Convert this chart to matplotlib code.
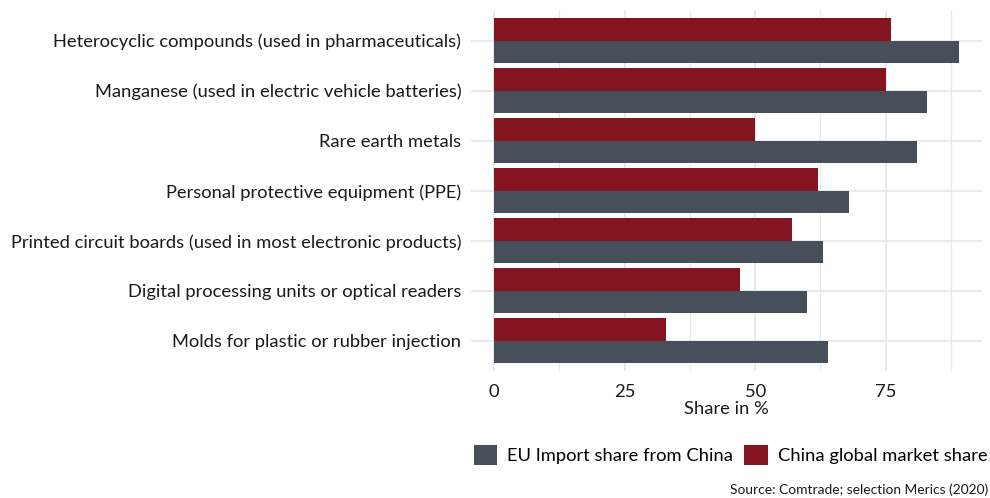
import matplotlib
matplotlib.use("Agg")
import matplotlib.pyplot as plt
import numpy as np

categories = [
    "Heterocyclic compounds (used in pharmaceuticals)",
    "Manganese (used in electric vehicle batteries)",
    "Rare earth metals",
    "Personal protective equipment (PPE)",
    "Printed circuit boards (used in most electronic products)",
    "Digital processing units or optical readers",
    "Molds for plastic or rubber injection",
]
eu_import_share = [89, 83, 81, 68, 63, 60, 64]
china_global_share = [76, 75, 50, 62, 57, 47, 33]
x_ticks = [0, 25, 50, 75]
x_tick_labels = ["0", "25", "50", "75"]
series_names = ["EU Import share from China", "China global market share"]

RED = "#84141f"
GREY = "#47505a"
TEXT = "#1a1a1a"
plt.rcParams["font.family"] = ["Lato", "DejaVu Sans"]
FS = 13.2

fig = plt.figure(figsize=(9.9, 4.98), dpi=100)
W, H = 990, 498
ax = fig.add_axes([471 / W, (H - 371) / H, (982 - 471) / W, (371 - 10.5) / H])

y = np.arange(len(categories))
bw = 0.45
b_grey = ax.barh(y + bw / 2, eu_import_share, height=bw, color=GREY, zorder=3)
b_red = ax.barh(y - bw / 2, china_global_share, height=bw, color=RED, zorder=3)

xmax = max(eu_import_share)
ax.set_xlim(-0.05 * xmax, xmax * 1.05)
ax.set_ylim(len(categories) - 0.4, -0.6)

ax.set_yticks(y)
ax.set_yticklabels(categories, fontsize=FS, color=TEXT)
ax.set_xticks(x_ticks)
ax.set_xticklabels(x_tick_labels, fontsize=FS, color=TEXT)
ax.set_xticks([12.5, 37.5, 62.5, 87.5], minor=True)
ax.tick_params(axis="both", which="both", length=0)
ax.tick_params(axis="y", pad=7)
ax.tick_params(axis="x", pad=9)

ax.grid(True, axis="x", which="major", color="#e3e3e3", linewidth=1.1, zorder=0)
ax.grid(True, axis="x", which="minor", color="#e8e8e8", linewidth=0.9, zorder=0)
ax.grid(True, axis="y", which="major", color="#e3e3e3", linewidth=1.1, zorder=0)
for s in ax.spines.values():
    s.set_visible(False)

ax.set_xlabel("Share in %", fontsize=FS, color=TEXT, labelpad=1)

fig.legend([b_grey, b_red], series_names, loc="center right",
           bbox_to_anchor=(988 / W, (H - 455) / H), ncol=2, frameon=False,
           fontsize=FS, handlelength=1.3, handleheight=1.3,
           handletextpad=0.55, columnspacing=0.6, borderpad=0, borderaxespad=0)

fig.text(988 / W, 8 / H, "Source: Comtrade; selection Merics (2020)",
         ha="right", va="center", fontsize=9.9, color=TEXT)

fig.savefig("out.png", dpi=100)
